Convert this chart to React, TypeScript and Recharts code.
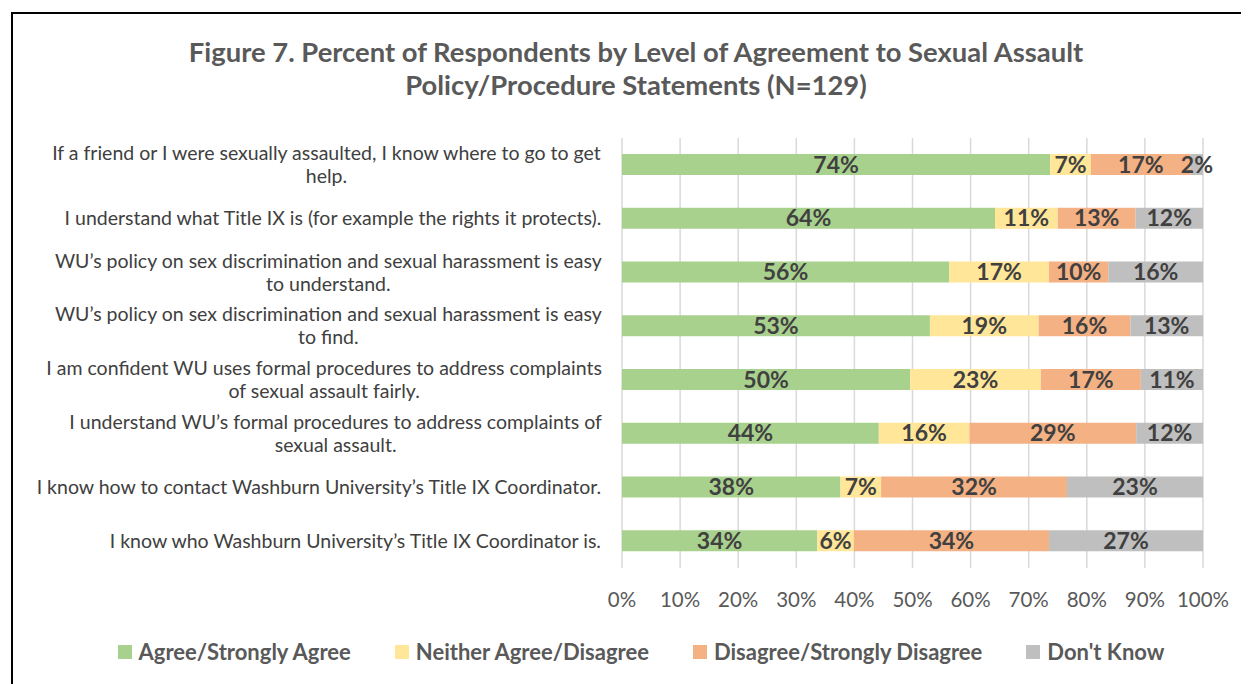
import React from "react";
import {
  BarChart,
  Bar,
  XAxis,
  YAxis,
  CartesianGrid,
  LabelList,
} from "recharts";

// statements, top to bottom (line breaks as in the figure)
const statements = [
  "If a friend or I were sexually assaulted, I know where to go to get\nhelp.",
  "I understand what Title IX is (for example the rights it protects).",
  "WU\u2019s policy on sex discrimination and sexual harassment is easy\nto understand.",
  "WU\u2019s policy on sex discrimination and sexual harassment is easy\nto find.",
  "I am confident WU uses formal procedures to address complaints\nof sexual assault fairly.",
  "I understand WU\u2019s formal procedures to address complaints of\nsexual assault.",
  "I know how to contact Washburn University\u2019s Title IX Coordinator.",
  "I know who Washburn University\u2019s Title IX Coordinator is.",
];

const agree = [73.7, 64.2, 56.3, 53.0, 49.6, 44.2, 37.6, 33.6];
const neither = [7.0, 10.8, 17.2, 18.7, 22.5, 15.6, 7.0, 6.3];
const disagree = [17.2, 13.4, 10.2, 15.8, 17.2, 28.7, 32.0, 33.6];
const dontKnow = [2.1, 11.6, 16.3, 12.5, 10.7, 11.5, 23.4, 26.5];

const xTicks = [0, 10, 20, 30, 40, 50, 60, 70, 80, 90, 100];

const seriesNames = [
  "Agree/Strongly Agree",
  "Neither Agree/Disagree",
  "Disagree/Strongly Disagree",
  "Don't Know",
];
const seriesKeys = ["agree", "neither", "disagree", "dontKnow"];
const seriesColors = ["#A9D18E", "#FFE699", "#F4B183", "#BFBFBF"];

const data = statements.map((name, i) => ({
  name,
  agree: agree[i],
  neither: neither[i],
  disagree: disagree[i],
  dontKnow: dontKnow[i],
}));

const FONT = "Lato, 'Open Sans', sans-serif";
const LABEL_SIZE = 19.5;
const LINE_H = 23;

const measureCtx =
  typeof document !== "undefined"
    ? document.createElement("canvas").getContext("2d")
    : null;

function textWidth(s: string) {
  if (!measureCtx) return s.length * LABEL_SIZE * 0.5;
  measureCtx.font = `${LABEL_SIZE}px Lato`;
  return measureCtx.measureText(s).width;
}

// Excel-style wrapped category label: block right aligned, lines centered
function WrapTick(props: any) {
  const { x, y, payload } = props;
  const lines = String(payload.value).split("\n");
  const maxW = Math.max(...lines.map(textWidth));
  const cx = x - maxW / 2;
  const y0 = y - ((lines.length - 1) * LINE_H) / 2;
  return (
    <text
      textAnchor="middle"
      fill="#404040"
      fontSize={LABEL_SIZE}
      fontFamily={FONT}
    >
      {lines.map((ln, i) => (
        <tspan key={i} x={cx} y={y0 + i * LINE_H} dy="0.35em">
          {ln}
        </tspan>
      ))}
    </text>
  );
}

export default function App() {
  return (
    <div
      style={{
        position: "relative",
        width: 1241,
        height: 676,
        overflow: "hidden",
        background: "#fff",
        fontFamily: FONT,
      }}
    >
      <div
        style={{
          position: "absolute",
          left: 3,
          top: 4,
          width: 2000,
          height: 2000,
          borderTop: "2px solid #000",
          borderLeft: "2px solid #000",
        }}
      />
      <div
        style={{
          position: "absolute",
          left: 28,
          top: 27,
          width: 1200,
          textAlign: "center",
          fontSize: 27.4,
          lineHeight: "33px",
          fontWeight: 700,
          color: "#595959",
        }}
      >
        Figure 7. Percent of Respondents by Level of Agreement to Sexual Assault
        <br />
        Policy/Procedure Statements (N=129)
      </div>

      <div style={{ position: "absolute", left: 0, top: 0 }}>
        <BarChart
          width={1241}
          height={676}
          layout="vertical"
          data={data}
          margin={{ top: 130, right: 46, bottom: 86, left: 0 }}
          barSize={21}
        >
          <CartesianGrid horizontal={false} stroke="#D9D9D9" strokeWidth={1.5} />
          <XAxis
            type="number"
            domain={[0, 100]}
            ticks={xTicks}
            tickFormatter={(v) => `${v}%`}
            axisLine={false}
            tickLine={false}
            height={30}
            tickMargin={18}
            tick={{ fill: "#595959", fontSize: 20.5, fontFamily: FONT }}
          />
          <YAxis
            type="category"
            dataKey="name"
            width={614}
            axisLine={false}
            tickLine={false}
            tickSize={0}
            tickMargin={20}
            interval={0}
            tick={<WrapTick />}
          />
          {seriesKeys.map((k, i) => (
            <Bar
              key={k}
              dataKey={k}
              name={seriesNames[i]}
              stackId="a"
              fill={seriesColors[i]}
              isAnimationActive={false}
            >
              <LabelList
                dataKey={k}
                position="center"
                formatter={(v: any) => `${Math.round(Number(v))}%`}
                fill="#404040"
                fontSize={23}
                fontWeight={700}
                fontFamily={FONT}
              />
            </Bar>
          ))}
        </BarChart>
      </div>

      <div
        style={{
          position: "absolute",
          left: 0,
          top: 630,
          width: 1266,
          display: "flex",
          justifyContent: "center",
          gap: 44,
          fontSize: 22,
          fontWeight: 700,
          color: "#595959",
          lineHeight: "28px",
        }}
      >
        {seriesNames.map((n, i) => (
          <div key={n} style={{ display: "flex", alignItems: "center", gap: 7 }}>
            <span
              style={{
                width: 14,
                height: 14,
                background: seriesColors[i],
                display: "inline-block",
              }}
            />
            <span>{n}</span>
          </div>
        ))}
      </div>
    </div>
  );
}
